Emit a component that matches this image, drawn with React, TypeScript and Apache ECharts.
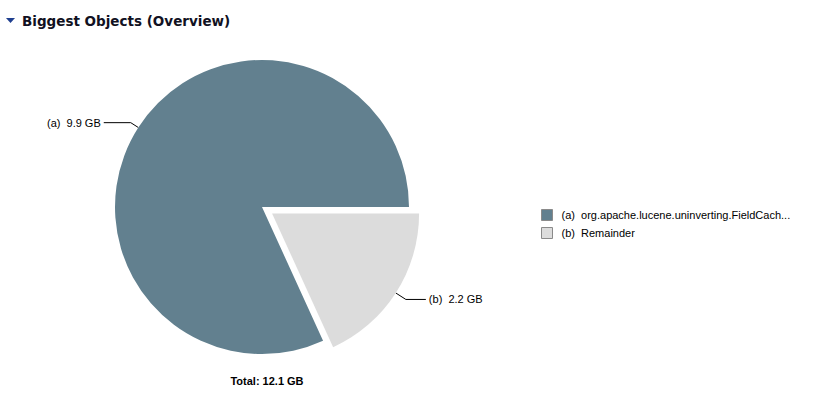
import React, { useEffect, useRef } from "react";
import * as echarts from "echarts";

const letters = ["a", "b"];
const names = ["org.apache.lucene.uninverting.FieldCach...", "Remainder"];
const valuesGB = [9.9, 2.2];
const totalLabel = "Total: 12.1 GB";
const colors = ["#62808f", "#dcdcdc"];
const titleText = "Biggest Objects (Overview)";
const labelLineLengths = [
  [9, 27],
  [12, 20],
];

export default function App() {
  const ref = useRef<HTMLDivElement>(null);
  useEffect(() => {
    document.body.style.margin = "0";
    const chart = echarts.init(ref.current!, null, { renderer: "svg" });
    const data = names.map((n, i) => ({
      name: n,
      value: valuesGB[i],
      letter: letters[i],
      selected: i === 1,
      itemStyle: { color: colors[i] },
      labelLine: { length: labelLineLengths[i][0], length2: labelLineLengths[i][1] },
    }));
    chart.setOption({
      animation: false,
      backgroundColor: "#ffffff",
      title: [
        {
          text: titleText,
          left: 17,
          top: 9,
          textStyle: { fontFamily: "DejaVu Sans", fontWeight: "bold", fontSize: 13.5, color: "#111122" },
        },
        {
          text: totalLabel,
          left: 262,
          top: 370,
          textAlign: "center",
          textStyle: { fontFamily: "Liberation Sans", fontWeight: "bold", fontSize: 11, color: "#000000" },
        },
      ],
      graphic: [
        {
          type: "polygon",
          shape: { points: [[6, 18], [15, 18], [10.5, 23]] },
          style: { fill: "#1f3f8f" },
        },
      ],
      legend: {
        orient: "vertical",
        left: 536,
        top: 204,
        itemWidth: 11,
        itemHeight: 11,
        itemGap: 6,
        icon: "rect",
        selectedMode: false,
        data: names,
        itemStyle: { borderColor: "#8a8a8a", borderWidth: 1 },
        formatter: (n: string) => `(${letters[names.indexOf(n)]})  ${n}`,
        textStyle: { fontFamily: "Liberation Sans", fontSize: 11, color: "#000000", padding: [0, 0, 0, 4] },
      },
      series: [
        {
          type: "pie",
          center: [262, 207],
          radius: 147,
          startAngle: 0,
          clockwise: false,
          selectedMode: "single",
          selectedOffset: 12,
          emphasis: { disabled: true },
          itemStyle: { borderWidth: 0 },
          label: {
            formatter: (p: any) => `(${p.data.letter})  ${p.value} GB`,
            fontFamily: "Liberation Sans",
            fontSize: 11,
            color: "#000000",
            distanceToLabelLine: 3,
          },
          labelLine: {
            lineStyle: { color: "#000000", width: 1 },
          },
          data,
        },
      ],
    });
    return () => chart.dispose();
  }, []);
  return <div ref={ref} style={{ width: 816, height: 406 }} />;
}
